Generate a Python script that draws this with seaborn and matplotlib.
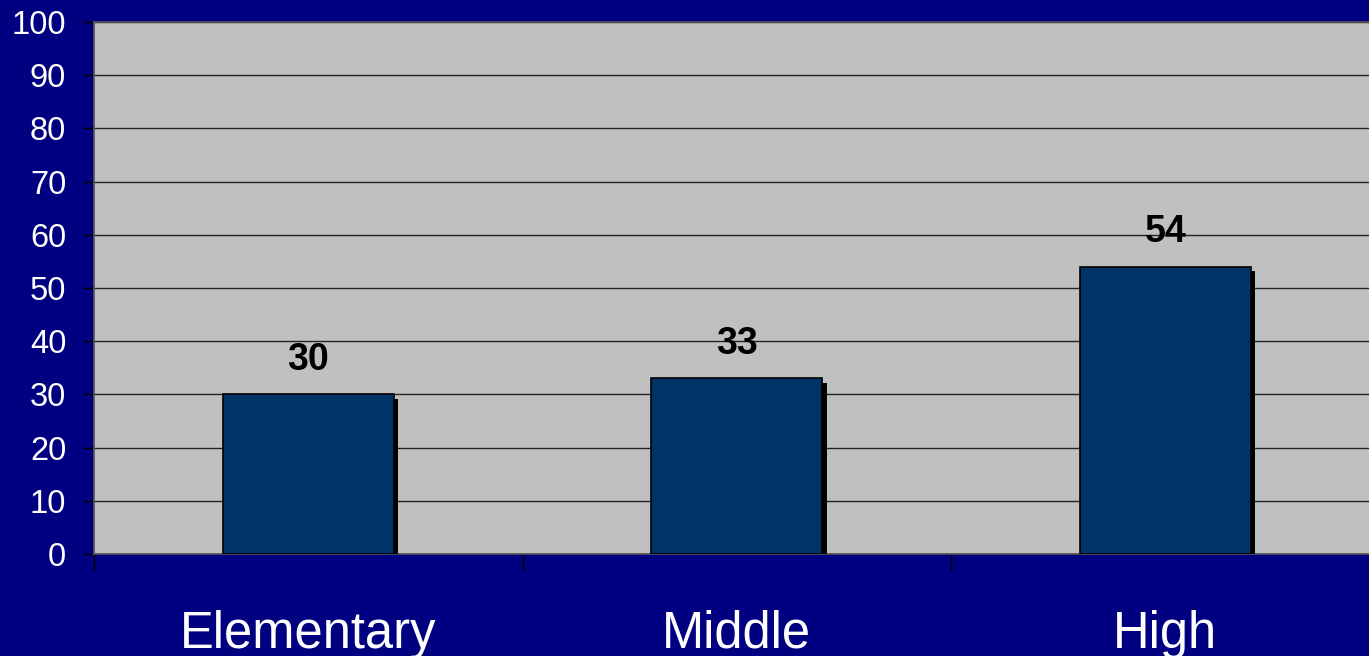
import matplotlib
matplotlib.use("Agg")
import matplotlib.pyplot as plt
import matplotlib.patheffects as pe
from matplotlib.ticker import FixedLocator
import seaborn as sns
import pandas as pd

categories = ["Elementary", "Middle", "High"]
values = [30, 33, 54]
y_ticks = list(range(0, 101, 10))

df = pd.DataFrame({"level": categories, "value": values})

plt.rcParams['font.family'] = ['Liberation Sans', 'DejaVu Sans']

fig = plt.figure(figsize=(13.69, 6.56), dpi=100, facecolor='#000080')
ax = fig.add_axes([94/1369, 102/656, 1285.5/1369, 532/656])
ax.set_facecolor('#C0C0C0')

sns.barplot(data=df, x="level", y="value", ax=ax, width=0.4,
            color='#003366', edgecolor='black', linewidth=1.2,
            saturation=1, zorder=3)

for p in ax.patches:
    p.set_path_effects([pe.SimplePatchShadow(offset=(3, -3), shadow_rgbFace='black', alpha=1.0),
                        pe.Normal()])

ax.set_ylim(0, 100)
ax.set_xlim(-0.5, 2.5)
ax.yaxis.set_major_locator(FixedLocator(y_ticks))
ax.yaxis.grid(True, color='#222222', linewidth=1.0, zorder=0)
ax.set_axisbelow(True)

for c in ax.containers:
    ax.bar_label(c, padding=12, fontsize=27, fontweight='bold', color='black')

ax.tick_params(axis='y', colors='black', labelcolor='white', labelsize=23.5,
               length=8, width=1, pad=12)
ax.tick_params(axis='x', which='major', length=0, labelcolor='white',
               labelsize=36.5, pad=40)
ax.xaxis.set_minor_locator(FixedLocator([-0.5, 0.5, 1.5, 2.5]))
ax.tick_params(axis='x', which='minor', length=12, width=1, color='black')

ax.set_xlabel("")
ax.set_ylabel("")
for s in ax.spines.values():
    s.set_color('#555555')
    s.set_linewidth(1.2)

fig.savefig("out.png", dpi=100, facecolor=fig.get_facecolor())
